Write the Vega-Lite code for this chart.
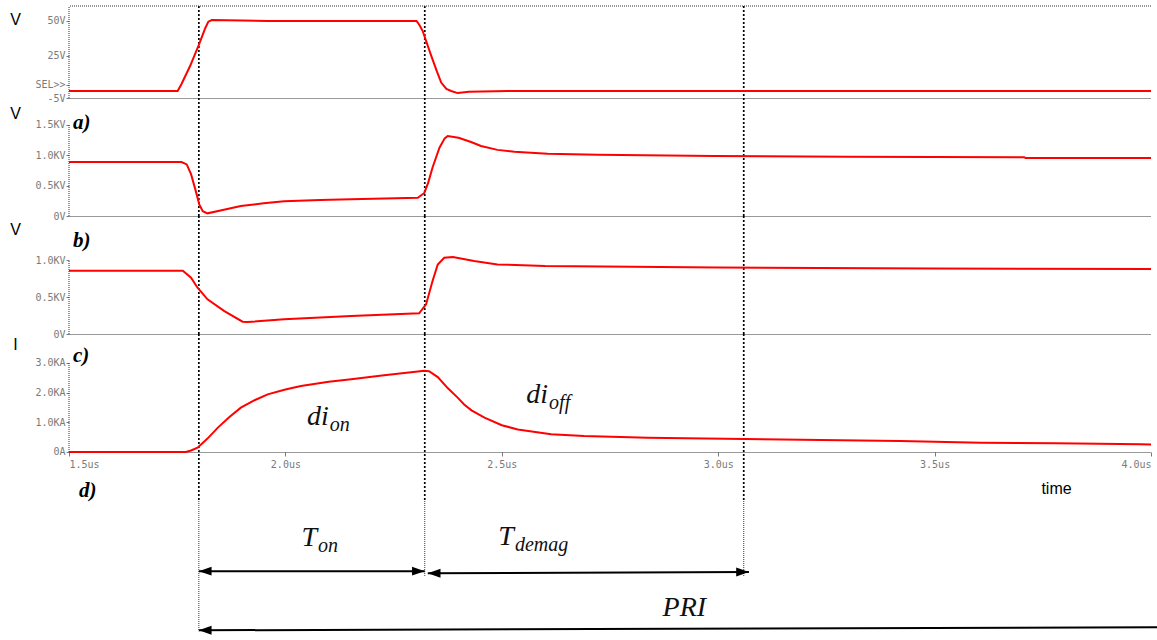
{
  "$schema": "https://vega.github.io/schema/vega-lite/v6.json",
  "padding": {"left": 9, "top": 5, "right": 0, "bottom": 0},
  "background": "white",
  "spacing": 0,
  "bounds": "flush",
  "config": {
    "view": {"stroke": null},
    "axis": {"grid": false, "labelOverlap": false, "labelFont": "DejaVu Sans Mono", "labelFontSize": 10, "labelColor": "#7a7a7a", "tickColor": "#7a7a7a", "tickSize": 3, "labelPadding": 1, "domainColor": "#333", "domainDash": [1, 1], "titleFont": "Liberation Sans", "titleFontSize": 16, "titleFontWeight": "normal", "titleColor": "#000"}
  },
  "datasets": {
    "cursors": [{"t": 1.8, "top": 3.97, "mid": -1.65, "end": -6.03}, {"t": 2.322, "top": 3.97, "mid": -1.65, "end": -4.17}, {"t": 3.059, "top": 3.97, "mid": -1.65, "end": -4.17}],
    "frame1": [{"x": 1.5, "lo": -5, "hi": 60.7}],
    "frame2": [{"x": 1.5, "lo": 0, "hi": 1.5}],
    "frame3": [{"x": 1.5, "lo": 0, "hi": 1.0}],
    "frame4": [{"x": 1.5, "lo": 0, "hi": 3.0}],
    "gate": [
      {"t": 1.5, "v": 0}, {"t": 1.751, "v": 0}, {"t": 1.76, "v": 5}, {"t": 1.78, "v": 18}, {"t": 1.8, "v": 33}, {"t": 1.815, "v": 45}, {"t": 1.822, "v": 49.5}, {"t": 1.83, "v": 50.7}, {"t": 1.9, "v": 50.4}, {"t": 1.96, "v": 50}, {"t": 2.303, "v": 50}, {"t": 2.31, "v": 47}, {"t": 2.317, "v": 43}, {"t": 2.336, "v": 26}, {"t": 2.35, "v": 14}, {"t": 2.36, "v": 6}, {"t": 2.372, "v": 1.5}, {"t": 2.383, "v": 0}, {"t": 2.398, "v": -1.5}, {"t": 2.424, "v": -0.5}, {"t": 2.514, "v": 0}, {"t": 4.0, "v": 0}
    ],
    "va": [
      {"t": 1.5, "v": 0.89}, {"t": 1.76, "v": 0.89}, {"t": 1.772, "v": 0.85}, {"t": 1.782, "v": 0.69}, {"t": 1.793, "v": 0.41}, {"t": 1.801, "v": 0.19}, {"t": 1.809, "v": 0.08}, {"t": 1.82, "v": 0.044}, {"t": 1.85, "v": 0.09}, {"t": 1.897, "v": 0.165}, {"t": 1.95, "v": 0.21}, {"t": 1.997, "v": 0.245}, {"t": 2.08, "v": 0.265}, {"t": 2.152, "v": 0.275}, {"t": 2.306, "v": 0.3}, {"t": 2.321, "v": 0.38}, {"t": 2.33, "v": 0.55}, {"t": 2.34, "v": 0.8}, {"t": 2.356, "v": 1.125}, {"t": 2.368, "v": 1.28}, {"t": 2.375, "v": 1.318}, {"t": 2.4, "v": 1.29}, {"t": 2.429, "v": 1.22}, {"t": 2.452, "v": 1.153}, {"t": 2.49, "v": 1.09}, {"t": 2.529, "v": 1.06}, {"t": 2.606, "v": 1.027}, {"t": 2.722, "v": 1.01}, {"t": 2.99, "v": 0.99}, {"t": 3.3, "v": 0.975}, {"t": 3.707, "v": 0.97}, {"t": 3.71, "v": 0.955}, {"t": 4.0, "v": 0.955}
    ],
    "vb": [
      {"t": 1.5, "v": 0.855}, {"t": 1.763, "v": 0.855}, {"t": 1.782, "v": 0.76}, {"t": 1.797, "v": 0.626}, {"t": 1.82, "v": 0.469}, {"t": 1.859, "v": 0.31}, {"t": 1.901, "v": 0.166}, {"t": 1.913, "v": 0.162}, {"t": 1.997, "v": 0.198}, {"t": 2.152, "v": 0.243}, {"t": 2.309, "v": 0.28}, {"t": 2.325, "v": 0.4}, {"t": 2.34, "v": 0.716}, {"t": 2.352, "v": 0.94}, {"t": 2.367, "v": 1.03}, {"t": 2.387, "v": 1.04}, {"t": 2.436, "v": 0.986}, {"t": 2.49, "v": 0.94}, {"t": 2.6, "v": 0.92}, {"t": 3.0, "v": 0.9}, {"t": 3.5, "v": 0.885}, {"t": 4.0, "v": 0.88}
    ],
    "ic": [
      {"t": 1.5, "v": 0}, {"t": 1.77, "v": 0}, {"t": 1.782, "v": 0.05}, {"t": 1.797, "v": 0.145}, {"t": 1.82, "v": 0.45}, {"t": 1.844, "v": 0.82}, {"t": 1.87, "v": 1.17}, {"t": 1.897, "v": 1.49}, {"t": 1.93, "v": 1.75}, {"t": 1.959, "v": 1.94}, {"t": 2.0, "v": 2.1}, {"t": 2.036, "v": 2.22}, {"t": 2.1, "v": 2.36}, {"t": 2.152, "v": 2.45}, {"t": 2.228, "v": 2.58}, {"t": 2.306, "v": 2.71}, {"t": 2.321, "v": 2.73}, {"t": 2.332, "v": 2.72}, {"t": 2.352, "v": 2.52}, {"t": 2.375, "v": 2.15}, {"t": 2.398, "v": 1.83}, {"t": 2.413, "v": 1.6}, {"t": 2.43, "v": 1.4}, {"t": 2.46, "v": 1.155}, {"t": 2.5, "v": 0.9}, {"t": 2.537, "v": 0.76}, {"t": 2.614, "v": 0.6}, {"t": 2.69, "v": 0.54}, {"t": 2.837, "v": 0.48}, {"t": 3.06, "v": 0.44}, {"t": 3.42, "v": 0.37}, {"t": 3.607, "v": 0.31}, {"t": 3.78, "v": 0.29}, {"t": 3.977, "v": 0.26}, {"t": 4.0, "v": 0.25}
    ],
    "ann": [
      {"main": "di", "sub": "on", "t": 2.1, "y": 0.9},
      {"main": "di", "sub": "off", "t": 2.607, "y": 1.65},
      {"main": "T", "sub": "on", "t": 2.073, "y": -3.15},
      {"main": "T", "sub": "demag", "t": 2.528, "y": -3.12},
      {"main": "PRI", "sub": "", "t": 2.972, "y": -5.52}
    ],
    "labels": [
      {"text": "c)", "t": 1.509, "y": 3.23},
      {"text": "d)", "t": 1.523, "y": -1.31}
    ],
    "arrows": [
      {"name": "Ton", "x1": 1.8, "x2": 2.322, "y1": -4.01, "y2": -4.01},
      {"name": "Tdemag", "x1": 2.329, "x2": 3.071, "y1": -4.08, "y2": -4.04},
      {"name": "PRI", "x1": 1.8, "x2": 4.02, "y1": -6.0, "y2": -5.9}
    ]
  },
  "vconcat": [
    {
      "width": 1082, "height": 92,
      "layer": [
        {"data": {"name": "cursors"}, "mark": {"type": "rule", "strokeDash": [2, 2], "strokeWidth": 1.7, "color": "#000"},
         "encoding": {"x": {"field": "t", "type": "quantitative", "scale": {"domain": [1.5, 4.0], "nice": false}, "axis": {"title": null, "labels": false, "ticks": false}}}},
        {"data": {"name": "frame1"}, "mark": {"type": "rule", "strokeDash": [1, 1], "color": "#333"},
         "encoding": {"y": {"field": "hi", "type": "quantitative"}}},
        {"data": {"name": "frame1"}, "mark": {"type": "rule", "strokeDash": [1, 1], "color": "#333"},
         "encoding": {"x": {"field": "x", "type": "quantitative"}, "y": {"field": "lo", "type": "quantitative"}, "y2": {"field": "hi"}}},
        {"data": {"name": "gate"}, "mark": {"type": "line", "color": "#ff0000", "strokeWidth": 2},
         "encoding": {
           "x": {"field": "t", "type": "quantitative", "scale": {"domain": [1.5, 4.0], "nice": false}, "axis": {"title": null, "labels": false, "ticks": false}},
           "y": {"field": "v", "type": "quantitative", "scale": {"domain": [-5, 60.7], "nice": false, "zero": false},
                 "axis": {"title": "V", "titleAngle": 0, "titleX": -54, "titleY": 13, "titleAlign": "center", "titleBaseline": "middle", "domain": false, "tickCount": 20,
                          "values": [-5, 4.3, 25, 50], "labelExpr": "datum.value == 4.3 ? 'SEL>>' : datum.value + 'V'"}}
         }}
      ]
    },
    {
      "width": 1082, "height": 118,
      "layer": [
        {"data": {"name": "cursors"}, "mark": {"type": "rule", "strokeDash": [2, 2], "strokeWidth": 1.7, "color": "#000"},
         "encoding": {"x": {"field": "t", "type": "quantitative", "scale": {"domain": [1.5, 4.0], "nice": false}, "axis": {"title": null, "labels": false, "ticks": false}}}},
        {"data": {"name": "frame2"}, "mark": {"type": "rule", "strokeDash": [1, 1], "color": "#333"},
         "encoding": {"x": {"field": "x", "type": "quantitative"}, "y": {"field": "lo", "type": "quantitative"}, "y2": {"field": "hi"}}},
        {"data": {"name": "va"}, "mark": {"type": "line", "color": "#ff0000", "strokeWidth": 2},
         "encoding": {
           "x": {"field": "t", "type": "quantitative", "scale": {"domain": [1.5, 4.0], "nice": false}, "axis": {"title": null, "labels": false, "ticks": false}},
           "y": {"field": "v", "type": "quantitative", "scale": {"domain": [0, 1.945], "nice": false, "zero": false},
                 "axis": {"title": "V", "titleAngle": 0, "titleX": -54, "titleY": 15, "titleAlign": "center", "titleBaseline": "middle", "domain": false, "tickCount": 20,
                          "values": [0, 0.5, 1, 1.5], "labelExpr": "datum.value == 0 ? '0V' : format(datum.value, '.1f') + 'KV'"}}
         }},
        {"data": {"values": [{"text": "a)", "t": 1.509, "y": 1.53}]}, "mark": {"type": "text", "align": "left", "baseline": "middle", "font": "Liberation Serif", "fontStyle": "italic", "fontWeight": "bold", "fontSize": 21, "color": "#000"},
         "encoding": {"x": {"field": "t", "type": "quantitative"}, "y": {"field": "y", "type": "quantitative"}, "text": {"field": "text"}}}
      ]
    },
    {
      "width": 1082, "height": 118,
      "layer": [
        {"data": {"name": "cursors"}, "mark": {"type": "rule", "strokeDash": [2, 2], "strokeWidth": 1.7, "color": "#000"},
         "encoding": {"x": {"field": "t", "type": "quantitative", "scale": {"domain": [1.5, 4.0], "nice": false}, "axis": {"title": null, "labels": false, "ticks": false}}}},
        {"data": {"name": "frame3"}, "mark": {"type": "rule", "strokeDash": [1, 1], "color": "#333"},
         "encoding": {"x": {"field": "x", "type": "quantitative"}, "y": {"field": "lo", "type": "quantitative"}, "y2": {"field": "hi"}}},
        {"data": {"name": "vb"}, "mark": {"type": "line", "color": "#ff0000", "strokeWidth": 2},
         "encoding": {
           "x": {"field": "t", "type": "quantitative", "scale": {"domain": [1.5, 4.0], "nice": false}, "axis": {"title": null, "labels": false, "ticks": false}},
           "y": {"field": "v", "type": "quantitative", "scale": {"domain": [0, 1.595], "nice": false, "zero": false},
                 "axis": {"title": "V", "titleAngle": 0, "titleX": -54, "titleY": 13, "titleAlign": "center", "titleBaseline": "middle", "domain": false, "tickCount": 20,
                          "values": [0, 0.5, 1], "labelExpr": "datum.value == 0 ? '0V' : format(datum.value, '.1f') + 'KV'"}}
         }},
        {"data": {"values": [{"text": "b)", "t": 1.509, "y": 1.26}]}, "mark": {"type": "text", "align": "left", "baseline": "middle", "font": "Liberation Serif", "fontStyle": "italic", "fontWeight": "bold", "fontSize": 21, "color": "#000"},
         "encoding": {"x": {"field": "t", "type": "quantitative"}, "y": {"field": "y", "type": "quantitative"}, "text": {"field": "text"}}}
      ]
    },
    {
      "width": 1082, "height": 307,
      "layer": [
        {"data": {"name": "cursors"}, "mark": {"type": "rule", "strokeDash": [2, 2], "strokeWidth": 1.7, "color": "#000"},
         "encoding": {"x": {"field": "t", "type": "quantitative", "scale": {"domain": [1.5, 4.0], "nice": false}},
                      "y": {"field": "top", "type": "quantitative"}, "y2": {"field": "mid"}}},
        {"data": {"name": "cursors"}, "mark": {"type": "rule", "strokeDash": [1, 1], "strokeWidth": 1, "color": "#333"},
         "encoding": {"x": {"field": "t", "type": "quantitative"},
                      "y": {"field": "mid", "type": "quantitative"}, "y2": {"field": "end"}}},
        {"data": {"name": "frame4"}, "mark": {"type": "rule", "strokeDash": [1, 1], "color": "#333"},
         "encoding": {"x": {"field": "x", "type": "quantitative"}, "y": {"field": "lo", "type": "quantitative"}, "y2": {"field": "hi"}}},
        {"data": {"name": "ic"}, "mark": {"type": "line", "color": "#ff0000", "strokeWidth": 2},
         "encoding": {
           "x": {"field": "t", "type": "quantitative", "scale": {"domain": [1.5, 4.0], "nice": false},
                 "axis": {"title": "time", "titleX": 987, "titleY": 36, "titleAngle": 0, "titleAlign": "center", "titleBaseline": "middle", "tickCount": 20,
                          "values": [1.5, 2, 2.5, 3, 3.5, 4], "labelExpr": "format(datum.value, '.1f') + 'us'", "tickSize": 4, "labelPadding": 3, "labelFontSize": 10, "offset": -189}},
           "y": {"field": "v", "type": "quantitative", "scale": {"domain": [-6.36, 3.97], "nice": false, "zero": false},
                 "axis": {"title": "I", "titleAngle": 0, "titleX": -54, "titleY": 10, "titleAlign": "center", "titleBaseline": "middle", "domain": false, "tickCount": 20,
                          "values": [0, 1, 2, 3], "labelExpr": "datum.value == 0 ? '0A' : format(datum.value, '.1f') + 'KA'"}}
         }},
        {"data": {"name": "labels"}, "mark": {"type": "text", "align": "left", "baseline": "middle", "font": "Liberation Serif", "fontStyle": "italic", "fontWeight": "bold", "fontSize": 21, "color": "#000"},
         "encoding": {"x": {"field": "t", "type": "quantitative"}, "y": {"field": "y", "type": "quantitative"}, "text": {"field": "text"}}},
        {"data": {"name": "ann"}, "mark": {"type": "text", "align": "right", "baseline": "alphabetic", "font": "Liberation Serif", "fontStyle": "italic", "fontSize": 28, "color": "#111"},
         "encoding": {"x": {"field": "t", "type": "quantitative"}, "y": {"field": "y", "type": "quantitative"}, "text": {"field": "main"}}},
        {"data": {"name": "ann"}, "mark": {"type": "text", "align": "left", "baseline": "alphabetic", "dy": 6, "dx": 1, "font": "Liberation Serif", "fontStyle": "italic", "fontSize": 20, "color": "#111"},
         "encoding": {"x": {"field": "t", "type": "quantitative"}, "y": {"field": "y", "type": "quantitative"}, "text": {"field": "sub"}}},
        {"data": {"name": "arrows"}, "mark": {"type": "rule", "strokeWidth": 2, "color": "#000"},
         "encoding": {"x": {"field": "x1", "type": "quantitative"}, "x2": {"field": "x2"}, "y": {"field": "y1", "type": "quantitative"}, "y2": {"field": "y2"}}},
        {"data": {"name": "arrows"}, "mark": {"type": "point", "shape": "M0,0L1.2,-0.42L1.2,0.42Z", "filled": true, "color": "#000", "opacity": 1, "size": 450, "strokeWidth": 0},
         "encoding": {"x": {"field": "x1", "type": "quantitative"}, "y": {"field": "y1", "type": "quantitative"}}},
        {"data": {"name": "arrows"}, "transform": [{"filter": "datum.name != 'PRI'"}], "mark": {"type": "point", "shape": "M0,0L-1.2,-0.42L-1.2,0.42Z", "filled": true, "color": "#000", "opacity": 1, "size": 450, "strokeWidth": 0},
         "encoding": {"x": {"field": "x2", "type": "quantitative"}, "y": {"field": "y2", "type": "quantitative"}}}
      ]
    }
  ]
}
